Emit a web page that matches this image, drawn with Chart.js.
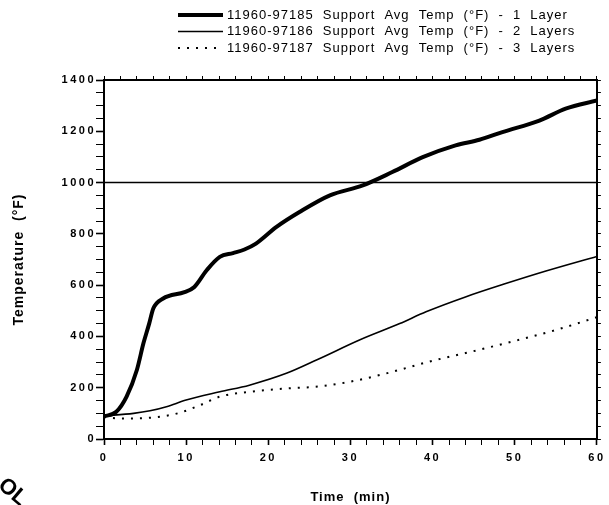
<!DOCTYPE html>
<html lang="en">
<head>
    <meta charset="UTF-8">
    <title>Support Avg Temp vs Time</title>
    <script src="https://cdn.jsdelivr.net/npm/chart.js"></script>
    <style>
        body, html {
            margin: 0;
            padding: 0;
            width: 609px;
            height: 505px;
            overflow: hidden;
            background: #fff;
        }
        #wrap { position: relative; width: 609px; height: 505px; }
    </style>
</head>
<body>
    <div id="wrap"><canvas id="tempChart"></canvas></div>

    <script>
        const seriesNames = [
            "11960-97185 Support Avg Temp (°F) - 1 Layer",
            "11960-97186 Support Avg Temp (°F) - 2 Layers",
            "11960-97187 Support Avg Temp (°F) - 3 Layers"
        ];

        // 1 layer (thick line)
        const time1 = [0, 1.5, 2.75, 4, 4.8, 5.5, 6, 7.2, 9.8, 11, 12.5, 14.1, 15.7, 17.1, 18.5, 21, 23.8, 27.5, 31.5, 35.1, 38.8, 42.8, 45.7, 48.5, 53, 56.2, 60];
        const temp1 = [88, 106, 165, 269, 373, 450, 509, 548, 573, 593, 658, 710, 725, 739, 762, 827, 885, 950, 989, 1041, 1099, 1145, 1167, 1197, 1242, 1288, 1320];

        // 2 layers (thin line)
        const time2 = [0, 3.6, 5.6, 7.6, 10, 14.1, 17.7, 22.2, 26, 31.1, 36, 39.2, 44, 48.9, 53.8, 60];
        const temp2 = [90, 100, 110, 126, 152, 184, 210, 256, 310, 386, 450, 496, 554, 606, 655, 712];

        // 3 layers (dotted line)
        const time3 = [0, 2, 6, 9.2, 11.7, 14.1, 17.7, 22.2, 26.2, 29.9, 33.9, 40, 44, 49.7, 55, 60];
        const temp3 = [85, 80, 84, 102, 132, 165, 184, 197, 205, 223, 252, 305, 335, 380, 425, 475];

        // reference line across the plot
        const refTime = [0, 60];
        const refTemp = [1000, 1000];

        const xMajor = 10;
        const yMajor = 200;

        const pts = (xs, ys) => xs.map((x, i) => ({ x: x, y: ys[i] }));
        const FONT = "'Liberation Sans', Arial, sans-serif";
        Chart.defaults.font.family = FONT;
        Chart.defaults.color = '#000';

        // letter spacing for tick labels + custom legend at top right
        const paperLook = {
            id: 'paperLook',
            beforeDraw(chart) {
                chart.ctx.letterSpacing = '1px';
            },
            afterDatasetsDraw(chart) {
                chart.ctx.letterSpacing = '2.5px';
            },
            afterDraw(chart) {
                const ctx = chart.ctx;
                ctx.save();
                ctx.letterSpacing = '1px';
                ctx.wordSpacing = '4.5px';
                ctx.fillStyle = '#000';
                ctx.strokeStyle = '#000';
                ctx.font = '13px ' + FONT;
                ctx.textBaseline = 'middle';
                const rows = [15, 31.5, 48];
                for (let i = 0; i < 3; i++) {
                    const ds = chart.data.datasets[i];
                    ctx.lineWidth = ds.borderWidth;
                    ctx.setLineDash(ds.borderDash || []);
                    ctx.beginPath();
                    ctx.moveTo(178, rows[i]);
                    ctx.lineTo(223, rows[i]);
                    ctx.stroke();
                    ctx.fillText(ds.label, 227, rows[i]);
                }
                ctx.restore();

                // stamp fragment in the lower left corner
                ctx.save();
                ctx.letterSpacing = '0px';
                ctx.wordSpacing = '0px';
                ctx.translate(-3, 487);
                ctx.rotate(0.7);
                ctx.font = 'bold 22px ' + FONT;
                ctx.fillStyle = '#000';
                ctx.fillText('OL', 0, 0);
                ctx.restore();
            }
        };

        const ctx = document.getElementById('tempChart').getContext('2d');
        new Chart(ctx, {
            type: 'line',
            data: {
                datasets: [
                    { label: seriesNames[0], data: pts(time1, temp1), borderColor: '#000', borderWidth: 4, pointRadius: 0, cubicInterpolationMode: 'monotone' },
                    { label: seriesNames[1], data: pts(time2, temp2), borderColor: '#000', borderWidth: 1.6, pointRadius: 0, cubicInterpolationMode: 'monotone' },
                    { label: seriesNames[2], data: pts(time3, temp3), borderColor: '#000', borderWidth: 2, borderDash: [2, 7], pointRadius: 0, cubicInterpolationMode: 'monotone' },
                    { label: 'ref', data: pts(refTime, refTemp), borderColor: '#000', borderWidth: 1.6, pointRadius: 0 }
                ]
            },
            options: {
                responsive: true,
                maintainAspectRatio: false,
                animation: false,
                layout: { padding: 0 },
                plugins: {
                    legend: { display: false },
                    tooltip: { enabled: false }
                },
                scales: {
                    x: {
                        type: 'linear', position: 'bottom', min: 0, max: 60,
                        afterFit: s => { s.height = 66; },
                        border: { color: '#000', width: 2 },
                        grid: { drawOnChartArea: false, tickLength: 6, tickColor: '#000', tickWidth: c => c.tick && c.tick.value % xMajor === 0 ? 1.6 : 1 },
                        ticks: {
                            stepSize: 2, autoSkip: false, maxRotation: 0, padding: 6, z: 1,
                            font: { size: 11, weight: 'bold' },
                            callback: v => v % xMajor === 0 ? v : ''
                        },
                        title: { display: true, text: 'Time  (min)', font: { size: 13, weight: 'bold' }, padding: { top: 1, bottom: 0 } }
                    },
                    y: {
                        type: 'linear', position: 'left', min: 0, max: 1400,
                        afterFit: s => { s.width = 104; },
                        border: { color: '#000', width: 2 },
                        grid: { drawOnChartArea: false, tickLength: 8, tickColor: '#000', tickWidth: c => c.tick && c.tick.value % yMajor === 0 ? 1.6 : 1 },
                        ticks: {
                            stepSize: 50, autoSkip: false, padding: 0, z: 1,
                            font: { size: 11, weight: 'bold' },
                            callback: v => v % yMajor === 0 ? v : ''
                        },
                        title: { display: true, text: 'Temperature  (°F)', font: { size: 14, weight: 'bold' }, padding: { top: 11, bottom: 0 } }
                    },
                    x2: {
                        type: 'linear', position: 'top', min: 0, max: 60,
                        afterFit: s => { s.height = 80; },
                        border: { color: '#000', width: 2 },
                        grid: { drawOnChartArea: false, tickLength: 4, tickColor: '#000' },
                        ticks: { stepSize: 2, autoSkip: false, display: false }
                    },
                    y2: {
                        type: 'linear', position: 'right', min: 0, max: 1400,
                        afterFit: s => { s.width = 11; },
                        border: { color: '#000', width: 2 },
                        grid: { drawOnChartArea: false, tickLength: 4, tickColor: '#000' },
                        ticks: { stepSize: 50, autoSkip: false, display: false }
                    }
                }
            },
            plugins: [paperLook]
        });
    </script>
</body>
</html>
